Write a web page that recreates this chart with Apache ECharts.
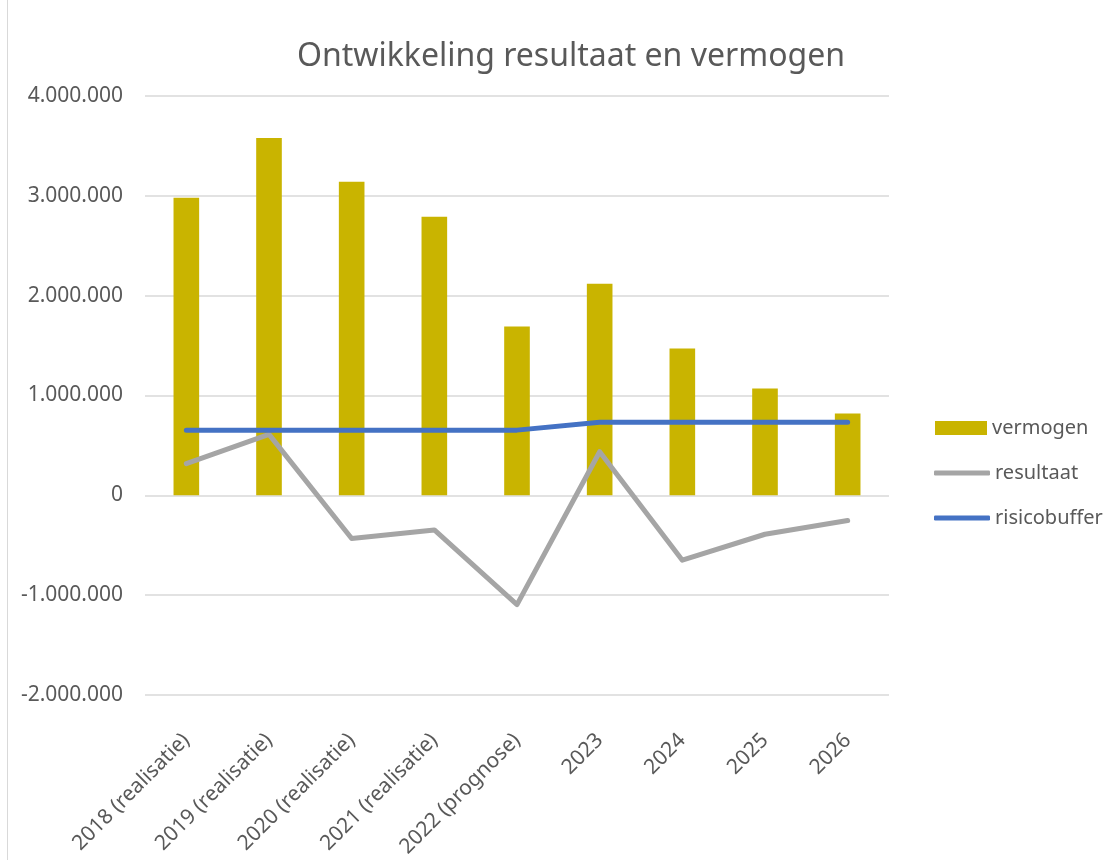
<!DOCTYPE html>
<html>
<head>
<meta charset="utf-8">
<script src="https://cdn.jsdelivr.net/npm/echarts@6/dist/echarts.min.js"></script>
<style>
html,body{margin:0;padding:0;background:#fff;}
#chart{width:1120px;height:860px;}
</style>
</head>
<body>
<div id="chart"></div>
<script>
const categories = ['2018 (realisatie)','2019 (realisatie)','2020 (realisatie)','2021 (realisatie)','2022 (prognose)','2023','2024','2025','2026'];
const vermogen = [2980000, 3580000, 3140000, 2790000, 1690000, 2120000, 1470000, 1070000, 820000];
const resultaat = [317000, 610000, -433000, -347000, -1095000, 437000, -650000, -390000, -253000];
const risicobuffer = [653000, 653000, 653000, 653000, 653000, 733000, 733000, 733000, 733000];
const yMin = -2000000, yMax = 4000000, yStep = 1000000;

const FONT = '"Noto Sans", sans-serif';
const TXT = '#595959';

function fmt(v){
  const neg = v < 0;
  const s = Math.abs(Math.round(v)).toString().replace(/\B(?=(\d{3})+(?!\d))/g, '.');
  return (neg ? '-' : '') + s;
}

const chart = echarts.init(document.getElementById('chart'), null, {renderer:'canvas'});
chart.setOption({
  animation:false,
  backgroundColor:'#fff',
  textStyle:{fontFamily:FONT},
  title:{
    text:'Ontwikkeling resultaat en vermogen',
    left:292, top:36,
    textStyle:{fontFamily:FONT, fontSize:32, fontWeight:'normal', color:TXT}
  },
  graphic:[{type:'line', shape:{x1:7.5,y1:0,x2:7.5,y2:860}, style:{stroke:'#d9d9d9', lineWidth:1}}],
  legend:[
    {data:['vermogen'], orient:'vertical', left:930, top:413, icon:'rect', itemWidth:52, itemHeight:14,
     textStyle:{fontFamily:FONT, fontSize:20, color:TXT}},
    {data:['resultaat'], orient:'vertical', left:929, top:458, icon:'roundRect', itemWidth:56, itemHeight:5,
     textStyle:{fontFamily:FONT, fontSize:20, color:TXT}},
    {data:['risicobuffer'], orient:'vertical', left:929, top:503, icon:'roundRect', itemWidth:56, itemHeight:5,
     textStyle:{fontFamily:FONT, fontSize:20, color:TXT}}
  ],
  grid:{left:145, right:231, top:96, bottom:164, containLabel:false},
  xAxis:{
    type:'category', data:categories,
    axisLine:{show:false, onZero:false}, axisTick:{show:false},
    axisLabel:{rotate:45, interval:0, margin:42, fontFamily:FONT, fontSize:21, color:TXT}
  },
  yAxis:{
    type:'value', min:yMin, max:yMax, interval:yStep,
    axisLine:{show:false}, axisTick:{show:false},
    splitLine:{lineStyle:{color:'#d9d9d9', width:1.5}},
    axisLabel:{formatter:fmt, margin:22, fontFamily:FONT, fontSize:21, color:TXT}
  },
  series:[
    {name:'vermogen', type:'bar', data:vermogen, barWidth:'31%', itemStyle:{color:'#C9B400'}},
    {name:'resultaat', type:'line', data:resultaat, showSymbol:false, symbol:'none',
     lineStyle:{color:'#A5A5A5', width:5, cap:'round', join:'round'}, itemStyle:{color:'#A5A5A5'}},
    {name:'risicobuffer', type:'line', data:risicobuffer, showSymbol:false, symbol:'none',
     lineStyle:{color:'#4472C4', width:5, cap:'round', join:'round'}, itemStyle:{color:'#4472C4'}}
  ]
});
</script>
</body>
</html>
